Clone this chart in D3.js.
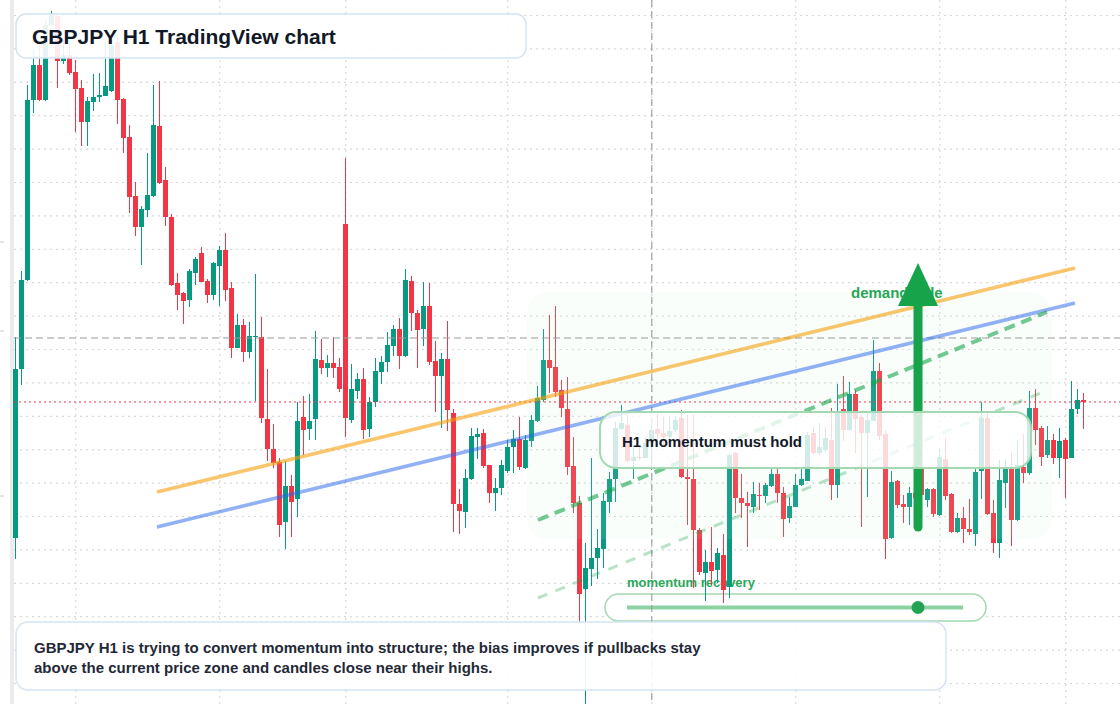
<!DOCTYPE html>
<html>
<head>
<meta charset="utf-8">
<title>GBPJPY H1 TradingView chart</title>
<script src="https://cdn.jsdelivr.net/npm/d3@7"></script>
<style>
  html, body { margin: 0; padding: 0; background: #fff; }
  svg { display: block; font-family: "Liberation Sans", Arial, Helvetica, sans-serif; }
</style>
</head>
<body>
<svg id="chart"></svg>
<script>
// GBPJPY H1 candles (oldest first)
const opens = [
  197.62, 199.31, 200.20, 202.00, 202.35, 202.00, 202.75, 202.84, 202.39, 202.45,
  202.28, 202.12, 201.78, 201.98, 202.03, 202.04, 202.09, 202.58, 202.01, 201.63,
  201.04, 200.73, 200.90, 201.04, 201.74, 201.20, 200.83, 200.17, 200.07, 200.00,
  200.27, 200.47, 200.19, 200.05, 200.34, 200.50, 200.12, 199.52, 199.75, 199.48,
  199.63, 199.63, 198.81, 198.51, 198.38, 197.78, 198.14, 198.01, 198.83, 198.71,
  198.81, 199.40, 199.32, 199.37, 199.33, 200.76, 198.80, 199.09, 199.21, 198.71,
  198.98, 199.28, 199.38, 199.54, 199.71, 199.44, 200.19, 199.87, 199.71, 199.94,
  199.39, 199.24, 199.41, 198.87, 197.96, 197.88, 198.21, 198.63, 198.67, 198.35,
  198.07, 198.12, 198.29, 198.53, 198.61, 198.32, 198.59, 198.79, 199.00, 199.40,
  199.33, 199.10, 198.91, 198.34, 197.97, 197.11, 197.31, 197.42, 197.51, 197.98,
  198.21, 198.71, 198.75, 198.39, 198.43, 198.42, 198.57, 198.71, 198.67, 198.63,
  198.70, 198.82, 198.23, 198.21, 197.70, 197.27, 197.38, 197.30, 197.45, 197.13,
  198.47, 198.02, 197.97, 197.93, 198.05, 198.04, 198.14, 198.26, 198.07, 197.82,
  197.93, 198.15, 198.19, 198.67, 198.47, 198.50, 198.60, 198.15, 198.91, 198.70,
  199.06, 198.83, 198.67, 198.79, 199.29, 198.66, 197.62, 198.19, 197.96, 197.93,
  198.07, 198.33, 198.00, 198.11, 197.85, 198.41, 198.06, 197.68, 197.82, 197.71,
  197.66, 198.29, 198.82, 197.87, 197.57, 198.17, 198.31, 197.80, 198.33, 198.27,
  198.92, 198.72, 198.45, 198.60, 198.42, 198.60, 198.42, 198.91, 199.00
];
const highs = [
  199.63, 200.29, 202.15, 202.50, 202.57, 202.80, 202.89, 202.85, 202.60, 202.57,
  202.40, 202.20, 202.03, 202.26, 202.27, 202.60, 202.60, 202.62, 202.02, 201.75,
  201.18, 200.94, 201.47, 202.15, 202.19, 201.33, 200.86, 200.27, 200.08, 200.31,
  200.43, 200.53, 200.21, 200.38, 200.54, 200.67, 200.18, 199.86, 199.81, 199.78,
  200.26, 199.83, 199.31, 198.76, 198.42, 198.39, 198.25, 198.98, 199.04, 199.06,
  199.69, 199.61, 199.45, 199.63, 199.42, 201.42, 199.36, 199.27, 199.32, 199.03,
  199.42, 199.44, 199.68, 199.75, 199.82, 200.31, 200.24, 199.90, 200.18, 200.17,
  199.59, 199.47, 199.79, 198.91, 198.11, 198.31, 198.72, 198.72, 198.71, 198.35,
  198.22, 198.40, 198.60, 198.70, 198.83, 198.65, 198.85, 199.14, 199.71, 199.85,
  199.94, 199.20, 199.23, 198.63, 198.04, 197.57, 198.42, 197.71, 198.07, 198.28,
  198.78, 198.95, 198.85, 198.53, 198.53, 198.63, 198.76, 198.86, 198.83, 198.84,
  198.84, 198.90, 198.85, 198.85, 197.72, 197.50, 197.73, 197.52, 197.66, 198.47,
  198.48, 198.26, 198.08, 198.18, 198.17, 198.17, 198.33, 198.33, 198.13, 198.03,
  198.26, 198.31, 198.68, 198.73, 198.77, 198.73, 198.92, 199.16, 199.24, 199.18,
  199.10, 198.85, 198.87, 199.60, 199.37, 198.70, 198.29, 198.20, 198.05, 198.13,
  198.20, 198.40, 198.12, 198.12, 198.51, 198.62, 198.07, 197.87, 197.93, 198.01,
  198.33, 198.98, 198.87, 198.00, 198.40, 198.41, 198.47, 198.59, 198.66, 199.09,
  199.11, 198.74, 198.74, 198.66, 198.72, 198.62, 199.19, 199.11, 199.07
];
const lows = [
  197.41, 199.15, 200.19, 201.87, 201.99, 201.99, 202.74, 202.12, 202.36, 202.25,
  201.68, 201.54, 201.54, 201.89, 201.98, 202.04, 202.08, 201.76, 201.47, 200.87,
  200.64, 200.35, 200.83, 201.03, 201.16, 200.74, 200.14, 199.90, 199.76, 199.93,
  200.15, 200.18, 199.97, 200.00, 199.94, 199.99, 199.42, 199.52, 199.38, 199.42,
  198.99, 198.77, 198.39, 198.32, 197.63, 197.51, 197.63, 197.83, 198.45, 198.60,
  198.60, 199.26, 199.23, 199.22, 199.08, 198.63, 198.77, 199.01, 198.61, 198.63,
  198.93, 199.16, 199.28, 199.44, 199.31, 199.43, 199.69, 199.32, 199.54, 199.35,
  198.88, 198.72, 198.69, 197.68, 197.66, 197.72, 198.20, 198.41, 198.32, 197.97,
  197.89, 198.05, 198.27, 198.27, 198.30, 198.31, 198.53, 198.78, 198.98, 199.07,
  199.03, 198.83, 198.25, 197.87, 196.78, 195.90, 197.14, 197.21, 197.32, 197.87,
  197.98, 198.70, 198.38, 198.21, 198.40, 198.42, 198.30, 198.60, 198.55, 198.60,
  198.68, 198.22, 197.75, 197.12, 197.25, 196.99, 197.15, 197.17, 196.97, 197.02,
  197.87, 197.82, 197.53, 197.87, 197.90, 197.97, 198.13, 197.97, 197.63, 197.77,
  197.93, 198.14, 198.19, 198.45, 198.45, 198.48, 198.00, 198.02, 198.59, 198.69,
  198.47, 197.73, 198.03, 198.79, 198.60, 197.41, 197.61, 197.92, 197.77, 197.75,
  197.95, 198.00, 197.93, 197.83, 197.84, 198.00, 197.67, 197.67, 197.57, 197.65,
  197.54, 198.01, 197.85, 197.47, 197.42, 197.92, 197.54, 197.79, 198.17, 198.25,
  198.55, 198.34, 198.42, 198.36, 198.22, 198.02, 198.42, 198.86, 198.71
];
const closes = [
  199.31, 200.20, 202.00, 202.35, 202.00, 202.75, 202.85, 202.39, 202.45, 202.27,
  202.11, 201.78, 201.99, 202.03, 202.05, 202.14, 202.55, 202.00, 201.62, 201.03,
  200.73, 200.91, 201.05, 201.75, 201.17, 200.83, 200.15, 200.05, 199.99, 200.29,
  200.41, 200.18, 200.05, 200.37, 200.50, 200.10, 199.52, 199.75, 199.48, 199.64,
  199.64, 198.82, 198.51, 198.37, 197.75, 198.14, 197.98, 198.79, 198.70, 198.79,
  199.41, 199.32, 199.37, 199.32, 199.11, 198.82, 199.11, 199.21, 198.70, 198.98,
  199.29, 199.38, 199.55, 199.71, 199.44, 200.20, 199.87, 199.70, 199.94, 199.38,
  199.24, 199.41, 198.90, 197.96, 197.89, 198.22, 198.64, 198.66, 198.34, 198.07,
  198.12, 198.35, 198.53, 198.61, 198.33, 198.60, 198.80, 199.02, 199.40, 199.32,
  199.08, 198.92, 198.33, 197.97, 197.06, 197.32, 197.42, 197.52, 197.99, 198.21,
  198.72, 198.77, 198.39, 198.43, 198.42, 198.57, 198.70, 198.66, 198.63, 198.69,
  198.80, 198.23, 198.21, 197.70, 197.28, 197.38, 197.29, 197.47, 197.10, 198.45,
  198.02, 197.97, 197.94, 198.06, 198.04, 198.15, 198.26, 198.07, 197.81, 197.94,
  198.15, 198.21, 198.65, 198.47, 198.53, 198.62, 198.15, 198.88, 198.70, 199.06,
  198.81, 198.67, 198.80, 199.29, 198.64, 197.61, 198.18, 197.95, 197.93, 198.07,
  198.02, 198.05, 198.11, 197.86, 198.43, 198.04, 197.68, 197.82, 197.71, 197.68,
  198.28, 198.82, 197.86, 197.57, 198.20, 198.32, 197.80, 198.35, 198.27, 198.92,
  198.70, 198.43, 198.60, 198.42, 198.59, 198.41, 198.91, 199.00, 198.98
];

// price grid levels and time grid (candle index) positions
const gridPrices = [202.845, 202.511, 202.177, 201.843, 201.509, 201.175, 200.841,
  200.507, 200.173, 199.839, 199.505, 199.171, 198.837, 198.503, 198.169, 197.835,
  197.501, 197.167, 196.833, 196.499, 196.165];
const gridCandles = [10, 34, 55, 82, 106, 130, 154, 175];
const crosshair = { candle: 106, price: 199.62 };
// stubs of the cut-off price scale at the left edge
const leftMarks = [200.58, 199.69, 198.04];

// drawn studies: [candle index, price]
const resistanceLine = [[23.53, 198.08], [176.53, 200.32]];
const supportLine = [[23.53, 197.73], [176.53, 199.97]];
const momentumLine = [[87.03, 197.80], [171.87, 199.88]];
const recoveryLine = [[87.03, 197.02], [172.03, 199.10]];
const demandZone = { from: 85.2, to: 172.7, top: 200.08, bottom: 197.61 };
const demandArrow = { candle: 150.37, from: 197.73, to: 200.37 };

const title = 'GBPJPY H1 TradingView chart';
const holdLabel = 'H1 momentum must hold';
const demandLabel = 'demand side';
const recoveryLabel = 'momentum recovery';
const caption = [
  'GBPJPY H1 is trying to convert momentum into structure; the bias improves if pullbacks stay',
  'above the current price zone and candles close near their highs.'
];

const width = 1120, height = 704;
const up = '#089981', down = '#f23645';

const candles = opens.map((o, i) => ({ i, o, h: highs[i], l: lows[i], c: closes[i] }));

const svg = d3.select('#chart')
  .attr('width', width)
  .attr('height', height)
  .attr('viewBox', `0 0 ${width} ${height}`);

const x = d3.scaleLinear().domain([0, candles.length - 1]).range([15.8, 1083.8]);
const y = d3.scaleLinear().domain([203, 195.96]).range([0, height]);

svg.append('rect').attr('width', width).attr('height', height).attr('fill', '#fff');

// left edge strip of the chart pane
svg.append('rect').attr('x', 10).attr('y', 0).attr('width', 4).attr('height', height).attr('fill', '#ebebeb');
svg.selectAll('line.mark').data(leftMarks).join('line')
  .attr('class', 'mark')
  .attr('x1', 0).attr('x2', 4)
  .attr('y1', d => y(d)).attr('y2', d => y(d))
  .attr('stroke', '#c8c8c8').attr('stroke-width', 1);

// grid
const grid = svg.append('g').attr('stroke', '#d8d8d8').attr('stroke-width', 1.2).attr('stroke-dasharray', '2 4');
grid.selectAll('line.h').data(gridPrices).join('line')
  .attr('class', 'h')
  .attr('x1', 14).attr('x2', width)
  .attr('y1', d => y(d)).attr('y2', d => y(d));
grid.selectAll('line.v').data(gridCandles).join('line')
  .attr('class', 'v')
  .attr('x1', d => x(d)).attr('x2', d => x(d))
  .attr('y1', 0).attr('y2', height);

// momentum recovery slider (sits under the candles)
svg.append('text')
  .attr('x', 627).attr('y', 587)
  .attr('font-size', 13).attr('font-weight', 700)
  .attr('fill', '#2aa85a')
  .text(recoveryLabel);
const slider = svg.append('g');
slider.append('rect')
  .attr('x', 605).attr('y', 594).attr('width', 381).attr('height', 27).attr('rx', 13.5)
  .attr('fill', '#fff').attr('stroke', '#a3d9b1').attr('stroke-width', 1.5);
slider.append('line')
  .attr('x1', 627).attr('x2', 963).attr('y1', 607.5).attr('y2', 607.5)
  .attr('stroke', '#8dd2a2').attr('stroke-width', 4);
slider.append('circle')
  .attr('cx', 918).attr('cy', 607.5).attr('r', 6.5)
  .attr('fill', '#22a352');

// candles
const bodyW = 5;
const cg = svg.append('g').attr('shape-rendering', 'crispEdges');
cg.selectAll('line').data(candles).join('line')
  .attr('x1', d => x(d.i)).attr('x2', d => x(d.i))
  .attr('y1', d => y(d.h)).attr('y2', d => y(d.l))
  .attr('stroke', d => d.c >= d.o ? up : down)
  .attr('stroke-width', 1);
cg.selectAll('rect').data(candles).join('rect')
  .attr('x', d => x(d.i) - bodyW / 2)
  .attr('y', d => y(Math.max(d.o, d.c)))
  .attr('width', bodyW)
  .attr('height', d => Math.max(1, Math.abs(y(d.o) - y(d.c))))
  .attr('fill', d => d.c >= d.o ? up : down);

// demand zone wash
svg.append('rect')
  .attr('x', x(demandZone.from)).attr('y', y(demandZone.top))
  .attr('width', x(demandZone.to) - x(demandZone.from))
  .attr('height', y(demandZone.bottom) - y(demandZone.top))
  .attr('rx', 20)
  .attr('fill', '#c6f1d4').attr('fill-opacity', 0.1);

// crosshair and last price
svg.append('line')
  .attr('x1', x(crosshair.candle)).attr('x2', x(crosshair.candle))
  .attr('y1', 0).attr('y2', height)
  .attr('stroke', '#9a9a9a').attr('stroke-width', 1.1).attr('stroke-dasharray', '7 4');
svg.append('line')
  .attr('x1', 14).attr('x2', width)
  .attr('y1', y(crosshair.price)).attr('y2', y(crosshair.price))
  .attr('stroke', '#9a9a9a').attr('stroke-width', 1.1).attr('stroke-dasharray', '7 4');
svg.append('line')
  .attr('x1', 14).attr('x2', width)
  .attr('y1', y(closes[closes.length - 1])).attr('y2', y(closes[closes.length - 1]))
  .attr('stroke', down).attr('stroke-width', 1.2).attr('stroke-dasharray', '2 3');

// trend lines
const line = d3.line().x(d => x(d[0])).y(d => y(d[1]));
svg.append('path').attr('d', line(resistanceLine))
  .attr('fill', 'none').attr('stroke', '#f59e0b').attr('stroke-opacity', 0.6).attr('stroke-width', 3.5);
svg.append('path').attr('d', line(supportLine))
  .attr('fill', 'none').attr('stroke', '#2563eb').attr('stroke-opacity', 0.5).attr('stroke-width', 3.5);
svg.append('path').attr('d', line(momentumLine))
  .attr('fill', 'none').attr('stroke', '#16a34a').attr('stroke-opacity', 0.6)
  .attr('stroke-width', 4).attr('stroke-dasharray', '11 7');
svg.append('path').attr('d', line(recoveryLine))
  .attr('fill', 'none').attr('stroke', '#16a34a').attr('stroke-opacity', 0.3)
  .attr('stroke-width', 3).attr('stroke-dasharray', '10 9');

// demand side label and arrow
svg.append('text')
  .attr('x', 851).attr('y', 298)
  .attr('font-size', 15).attr('font-weight', 700)
  .attr('fill', '#28a656')
  .text(demandLabel);
const ax = x(demandArrow.candle);
const tipY = y(demandArrow.to);
const baseY = tipY + 43;
svg.append('line')
  .attr('x1', ax).attr('x2', ax)
  .attr('y1', y(demandArrow.from)).attr('y2', baseY - 2)
  .attr('stroke', '#16a34a').attr('stroke-width', 9).attr('stroke-linecap', 'round');
svg.append('path')
  .attr('d', `M${ax},${tipY}L${ax + 20},${baseY}L${ax - 20},${baseY}Z`)
  .attr('fill', '#16a34a');

// hold box
svg.append('rect')
  .attr('x', 600).attr('y', 412).attr('width', 431).attr('height', 56).attr('rx', 16)
  .attr('fill', '#fff').attr('fill-opacity', 0.8)
  .attr('stroke', '#a3d9b1').attr('stroke-width', 2);
svg.append('text')
  .attr('x', 622).attr('y', 447)
  .attr('font-size', 15).attr('font-weight', 700)
  .attr('fill', '#111827')
  .text(holdLabel);

// title box
svg.append('rect')
  .attr('x', 16).attr('y', 14).attr('width', 510).attr('height', 44).attr('rx', 10)
  .attr('fill', '#fff').attr('fill-opacity', 0.9)
  .attr('stroke', '#d5e3f5').attr('stroke-width', 1.5);
svg.append('text')
  .attr('x', 32).attr('y', 43.5)
  .attr('font-size', 21).attr('font-weight', 700)
  .attr('fill', '#111827')
  .text(title);

// caption box
svg.append('rect')
  .attr('x', 16).attr('y', 622).attr('width', 930).attr('height', 68).attr('rx', 12)
  .attr('fill', '#fff').attr('fill-opacity', 0.9)
  .attr('stroke', '#d5e3f5').attr('stroke-width', 1.5);
svg.append('g').selectAll('text').data(caption).join('text')
  .attr('x', 34).attr('y', (d, k) => 653 + k * 20)
  .attr('font-size', 15).attr('font-weight', 700)
  .attr('fill', '#1f2937')
  .text(d => d);
</script>
</body>
</html>
